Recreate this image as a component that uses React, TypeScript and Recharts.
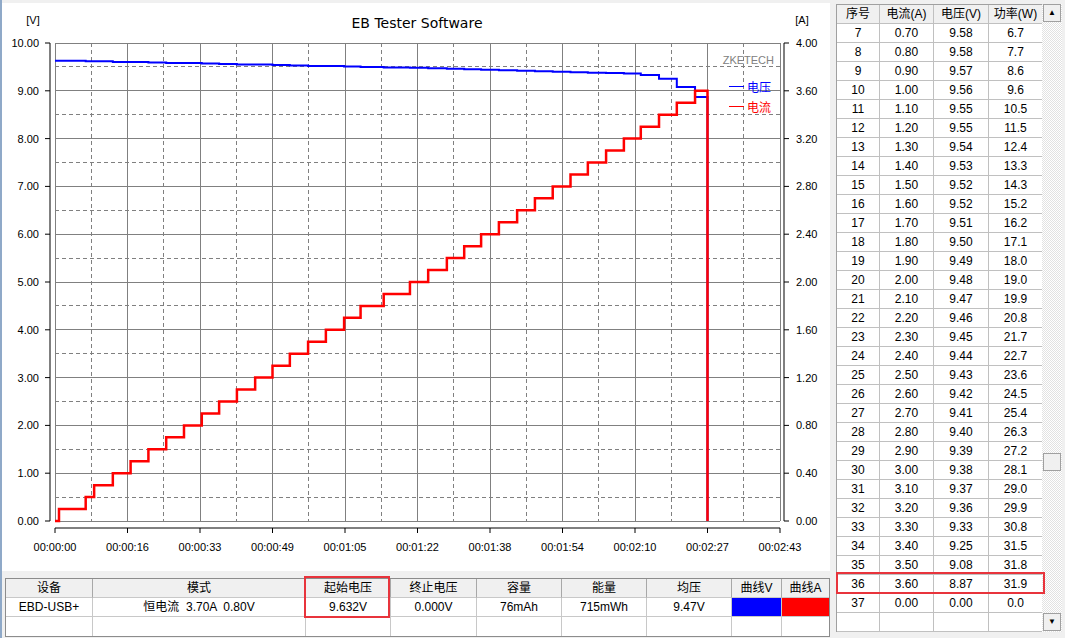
import { LineChart, Line, XAxis, YAxis, CartesianGrid } from "recharts"

// seconds at which each current step starts (last entry = load switched off)
const stepTimes = [
  0, 0.9, 6.9, 8.8, 13.0, 17.0, 21.0, 25.0, 29.0, 33.0, 36.9, 40.9, 45.0, 48.9, 52.8, 56.9, 60.9, 65.0, 68.7,
  73.9, 79.8, 83.9, 88.1, 92.0, 95.8, 99.8, 103.9, 107.9, 111.9, 115.9, 119.8, 123.9, 127.9, 131.7, 135.8,
  139.8, 143.9, 146.7,
]
const stepCurrents = [
  0, 0.1, 0.2, 0.3, 0.4, 0.5, 0.6, 0.7, 0.8, 0.9, 1.0, 1.1, 1.2, 1.3, 1.4, 1.5, 1.6, 1.7, 1.8, 1.9, 2.0, 2.1, 2.2,
  2.3, 2.4, 2.5, 2.6, 2.7, 2.8, 2.9, 3.0, 3.1, 3.2, 3.3, 3.4, 3.5, 3.6, 0,
]
const stepVoltages = [
  9.63, 9.63, 9.62, 9.62, 9.6, 9.6, 9.59, 9.58, 9.58, 9.57, 9.56, 9.55, 9.55, 9.54, 9.53, 9.52, 9.52, 9.51, 9.5,
  9.49, 9.48, 9.47, 9.46, 9.45, 9.44, 9.43, 9.42, 9.41, 9.4, 9.39, 9.38, 9.37, 9.36, 9.33, 9.25, 9.08, 8.87, 0,
]
// power column of the log, rows 7..37
const rowPowers = [
  6.7, 7.7, 8.6, 9.6, 10.5, 11.5, 12.4, 13.3, 14.3, 15.2, 16.2, 17.1, 18.0, 19.0, 19.9, 20.8, 21.7, 22.7, 23.6,
  24.5, 25.4, 26.3, 27.2, 28.1, 29.0, 29.9, 30.8, 31.5, 31.8, 31.9, 0.0,
]
const firstRow = 7

const xTicks = [0, 16.3, 32.6, 48.9, 65.2, 81.5, 97.8, 114.1, 130.4, 146.7, 163]
const xTickLabels = [
  "00:00:00", "00:00:16", "00:00:33", "00:00:49", "00:01:05", "00:01:22",
  "00:01:38", "00:01:54", "00:02:10", "00:02:27", "00:02:43",
]
const vTicks = [0, 1, 2, 3, 4, 5, 6, 7, 8, 9, 10]
const aTicks = [0, 0.4, 0.8, 1.2, 1.6, 2.0, 2.4, 2.8, 3.2, 3.6, 4.0]

const summaryHeaders = ["设备", "模式", "起始电压", "终止电压", "容量", "能量", "均压", "曲线V", "曲线A"]
const summaryValues = ["EBD-USB+", "恒电流  3.70A  0.80V", "9.632V", "0.000V", "76mAh", "715mWh", "9.47V", "", ""]
const logHeaders = ["序号", "电流(A)", "电压(V)", "功率(W)"]

const data = stepTimes.map((t, i) => ({ t, v: stepVoltages[i], a: stepCurrents[i] }))
const xMinor = xTicks.slice(1).map((x, i) => (x + xTicks[i]) / 2)
const vMinor = vTicks.slice(1).map((v) => v - 0.5)

const LATIN = '"Liberation Sans", Arial, "Noto Sans CJK SC", sans-serif'
const TITLE = '"DejaVu Sans", "Liberation Sans", sans-serif'
const tickFont = { fontSize: 11, fontFamily: LATIN, fill: "#000" }

const summaryCols = [87, 213, 85, 86, 85, 85, 85, 50, 47]
const logCols = [43, 54, 55, 54]

function SummaryTable() {
  const cell = (w: number, last: boolean): React.CSSProperties => ({
    width: w,
    height: 19,
    boxSizing: "border-box",
    borderRight: last ? "none" : "1px solid #c8c8c8",
    borderBottom: "1px solid #c8c8c8",
    textAlign: "center",
    lineHeight: "18px",
    fontSize: 12,
    whiteSpace: "pre",
  })
  return (
    <div style={{ position: "absolute", left: 5, top: 578, width: 823, border: "1px solid #8c8c8c", background: "#fff", fontFamily: LATIN }}>
      <div style={{ display: "flex", background: "#f0f0f0" }}>
        {summaryHeaders.map((h, i) => (
          <div key={h} style={{ ...cell(summaryCols[i], i === summaryCols.length - 1), borderRight: i === summaryCols.length - 1 ? "none" : "1px solid #a8a8a8" }}>{h}</div>
        ))}
      </div>
      <div style={{ display: "flex" }}>
        {summaryValues.map((v, i) => (
          <div
            key={i}
            style={{
              ...cell(summaryCols[i], i === summaryCols.length - 1),
              background: i === 7 ? "#0000ff" : i === 8 ? "#ff0000" : "#fff",
            }}
          >
            {v}
          </div>
        ))}
      </div>
      <div style={{ display: "flex" }}>
        {summaryCols.map((w, i) => (
          <div key={i} style={{ ...cell(w, i === summaryCols.length - 1), borderBottom: "none" }} />
        ))}
      </div>
    </div>
  )
}

function LogTable() {
  const rows = rowPowers.map((p, k) => {
    const idx = firstRow + k
    return [String(idx), stepCurrents[idx].toFixed(2), stepVoltages[idx].toFixed(2), p.toFixed(1)]
  })
  rows.push(["", "", "", ""])
  const cell = (w: number): React.CSSProperties => ({
    width: w,
    height: 19,
    boxSizing: "border-box",
    borderRight: "1px solid #c0c0c0",
    borderBottom: "1px solid #c0c0c0",
    textAlign: "center",
    lineHeight: "18px",
    fontSize: 12,
  })
  return (
    <div style={{ position: "absolute", left: 836, top: 4, width: 206, borderLeft: "1px solid #a0a0a0", borderTop: "1px solid #a0a0a0", background: "#fff", fontFamily: LATIN }}>
      <div style={{ display: "flex", background: "#f0f0f0" }}>
        {logHeaders.map((h, i) => (
          <div key={h} style={cell(logCols[i])}>{h}</div>
        ))}
      </div>
      {rows.map((r, j) => (
        <div key={j} style={{ display: "flex" }}>
          {r.map((c, i) => (
            <div key={i} style={cell(logCols[i])}>{c}</div>
          ))}
        </div>
      ))}
    </div>
  )
}

function ScrollBar() {
  const btn: React.CSSProperties = {
    position: "absolute",
    left: 1,
    width: 18,
    height: 18,
    boxSizing: "border-box",
    background: "#f0f0f0",
    border: "1px solid #a0a0a0",
    fontSize: 8,
    lineHeight: "16px",
    textAlign: "center",
    color: "#000",
  }
  return (
    <div
      style={{
        position: "absolute",
        left: 1042,
        top: 4,
        width: 20,
        height: 628,
        background: "repeating-conic-gradient(#ffffff 0 25%, #e2e2e2 0 50%) 0 0 / 2px 2px",
        fontFamily: LATIN,
      }}
    >
      <div style={{ ...btn, top: 0 }}>▲</div>
      <div style={{ ...btn, top: 449 }} />
      <div style={{ ...btn, top: 609 }}>▼</div>
    </div>
  )
}

export default function App() {
  return (
    <div style={{ position: "absolute", left: 0, top: 0, width: 1065, height: 638, background: "#f0f0f0", overflow: "hidden" }}>
      <div style={{ position: "absolute", left: 0, top: 0, width: 2, height: 638, background: "#8fa9c8" }} />
      <div style={{ position: "absolute", left: 2, top: 3, width: 828, height: 568, background: "#fff" }} />

      <div style={{ position: "absolute", left: 0, top: 0 }}>
        <LineChart width={830} height={572} data={data} margin={{ top: 43, right: 0, bottom: 11, left: 0 }}>
          <CartesianGrid
            horizontalValues={vMinor}
            verticalValues={xMinor}
            stroke="#808080"
            strokeDasharray="4 3"
            shapeRendering="crispEdges"
          />
          <CartesianGrid horizontalValues={vTicks} verticalValues={xTicks} stroke="#808080" shapeRendering="crispEdges" />
          <XAxis
            type="number"
            dataKey="t"
            domain={[0, 163]}
            ticks={xTicks}
            interval={0}
            height={40}
            tickSize={5}
            tickMargin={17}
            tick={tickFont}
            tickFormatter={(v: number) => xTickLabels[xTicks.indexOf(v)]}
            axisLine={{ stroke: "#000", transform: "translate(0,7)" }}
            tickLine={{ stroke: "#000", transform: "translate(0,7)" }}
          />
          <YAxis
            domain={[0, 10]}
            ticks={vTicks}
            interval={0}
            width={55}
            tickSize={5}
            tickMargin={11}
            tick={tickFont}
            tickFormatter={(v: number) => v.toFixed(2)}
            axisLine={{ stroke: "#000", transform: "translate(-5,0)" }}
            tickLine={{ stroke: "#000", transform: "translate(-5,0)" }}
          />
          <YAxis
            yAxisId="a"
            orientation="right"
            domain={[0, 4]}
            ticks={aTicks}
            interval={0}
            width={50}
            tickSize={5}
            tickMargin={11}
            tick={tickFont}
            tickFormatter={(v: number) => v.toFixed(2)}
            axisLine={{ stroke: "#000", transform: "translate(4,0)" }}
            tickLine={{ stroke: "#000", transform: "translate(4,0)" }}
          />
          <Line type="stepAfter" dataKey="v" stroke="#0000ff" strokeWidth={2} dot={false} isAnimationActive={false} />
          <Line yAxisId="a" type="stepAfter" dataKey="a" stroke="#ff0000" strokeWidth={2.5} dot={false} isAnimationActive={false} />
        </LineChart>
      </div>

      <div style={{ position: "absolute", left: 317, top: 13, width: 200, height: 20, lineHeight: "20px", textAlign: "center", fontFamily: TITLE, fontSize: 14, color: "#000" }}>
        EB Tester Software
      </div>
      <div style={{ position: "absolute", left: 20, top: 13, width: 26, lineHeight: "15px", textAlign: "center", fontFamily: LATIN, fontSize: 11 }}>[V]</div>
      <div style={{ position: "absolute", left: 789, top: 13, width: 26, lineHeight: "15px", textAlign: "center", fontFamily: LATIN, fontSize: 11 }}>[A]</div>
      <div style={{ position: "absolute", left: 674, top: 52, width: 100, lineHeight: "16px", textAlign: "right", fontFamily: LATIN, fontSize: 11, color: "#808080", letterSpacing: 0 }}>ZKETECH</div>

      <div style={{ position: "absolute", left: 729, top: 86, width: 15, height: 1, background: "#0000ff" }} />
      <div style={{ position: "absolute", left: 747, top: 78, lineHeight: "17px", fontFamily: '"Noto Sans CJK SC", sans-serif', fontSize: 12, color: "#0000ff" }}>电压</div>
      <div style={{ position: "absolute", left: 729, top: 106, width: 15, height: 1, background: "#ff0000" }} />
      <div style={{ position: "absolute", left: 747, top: 98, lineHeight: "17px", fontFamily: '"Noto Sans CJK SC", sans-serif', fontSize: 12, color: "#ff0000" }}>电流</div>

      <SummaryTable />
      <LogTable />
      <ScrollBar />

      <div style={{ position: "absolute", left: 304, top: 576, width: 86, height: 42, boxSizing: "border-box", border: "2px solid #e8343c" }} />
      <div style={{ position: "absolute", left: 836, top: 572, width: 209, height: 22, boxSizing: "border-box", border: "2px solid #e8343c" }} />
    </div>
  )
}
